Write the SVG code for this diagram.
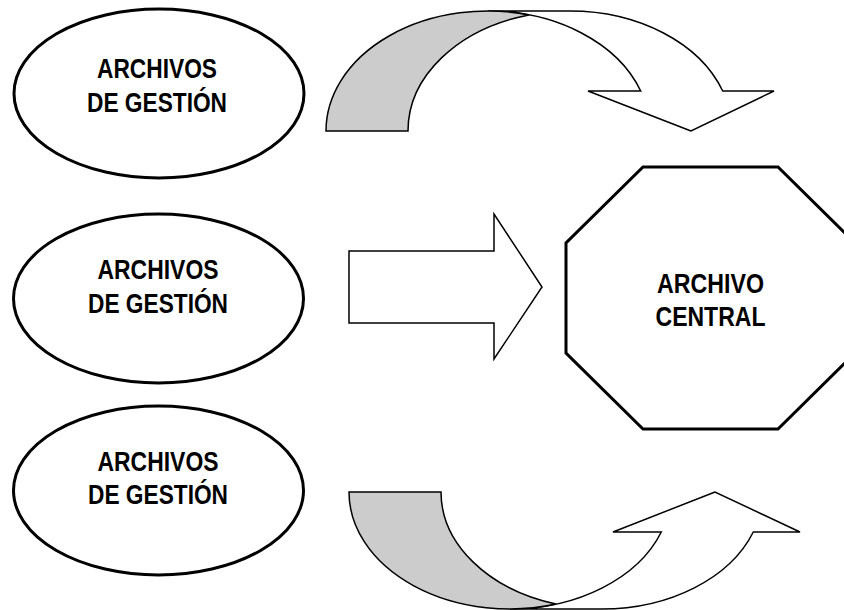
<svg xmlns="http://www.w3.org/2000/svg" width="844" height="610" viewBox="0 0 844 610">
<style>
.node{fill:#fff;stroke:#000;stroke-width:3}
.arrow{fill:#fff;stroke:#000;stroke-width:1.5;stroke-linejoin:miter}
.back{fill:#cccccc;stroke:#000;stroke-width:1.5}
.lbl{font-family:"Liberation Sans",Arial,sans-serif;font-weight:bold;font-size:27px;fill:#000;text-anchor:middle}
</style>
<rect width="844" height="610" fill="#fff"/>
<g id="connectors">
  <g id="arrow-top">
    <path class="arrow" d="M691,131 L588,91 L640.7,91 A162,120 0 0 0 488,11 L570,11 A162,120 0 0 1 722.7,91 L774,91 Z"/>
    <path class="back" d="M529,14.9 A162,120 0 0 0 408,131 L326,131 A162,120 0 0 1 529,14.9 Z"/>
  </g>
  <g id="arrow-middle">
    <path class="arrow" d="M349,251 L494,251 L494,214 L542,287 L494,359 L494,323 L349,323 Z"/>
  </g>
  <g id="arrow-bottom">
    <path class="arrow" d="M715,492 L613,532 L661.3,532 A161,117 0 0 1 510,609 L602,609 A161,117 0 0 0 753.3,532 L800,532 Z"/>
    <path class="back" d="M556,604.1 A161,117 0 0 1 441,492 L349,492 A161,117 0 0 0 556,604.1 Z"/>
  </g>
</g>
<g id="gestion1">
  <ellipse class="node" cx="159" cy="93.5" rx="145" ry="84.5"/>
  <text class="lbl" x="157" y="78" textLength="120" lengthAdjust="spacingAndGlyphs">ARCHIVOS</text>
  <text class="lbl" x="157" y="112" textLength="140" lengthAdjust="spacingAndGlyphs">DE GESTIÓN</text>
</g>
<g id="gestion2">
  <ellipse class="node" cx="158.5" cy="298.5" rx="145" ry="84.5"/>
  <text class="lbl" x="158" y="279" textLength="121" lengthAdjust="spacingAndGlyphs">ARCHIVOS</text>
  <text class="lbl" x="158" y="313" textLength="140" lengthAdjust="spacingAndGlyphs">DE GESTIÓN</text>
</g>
<g id="gestion3">
  <ellipse class="node" cx="158.5" cy="490.5" rx="145" ry="84.5"/>
  <text class="lbl" x="158" y="471" textLength="121" lengthAdjust="spacingAndGlyphs">ARCHIVOS</text>
  <text class="lbl" x="158" y="504" textLength="140" lengthAdjust="spacingAndGlyphs">DE GESTIÓN</text>
</g>
<g id="central">
  <polygon class="node" points="643,167 778,167 855,243 855,353 778,429 643,429 566,353 566,243"/>
  <text class="lbl" x="710.5" y="293" textLength="107" lengthAdjust="spacingAndGlyphs">ARCHIVO</text>
  <text class="lbl" x="710.5" y="326" textLength="110" lengthAdjust="spacingAndGlyphs">CENTRAL</text>
</g>
</svg>
